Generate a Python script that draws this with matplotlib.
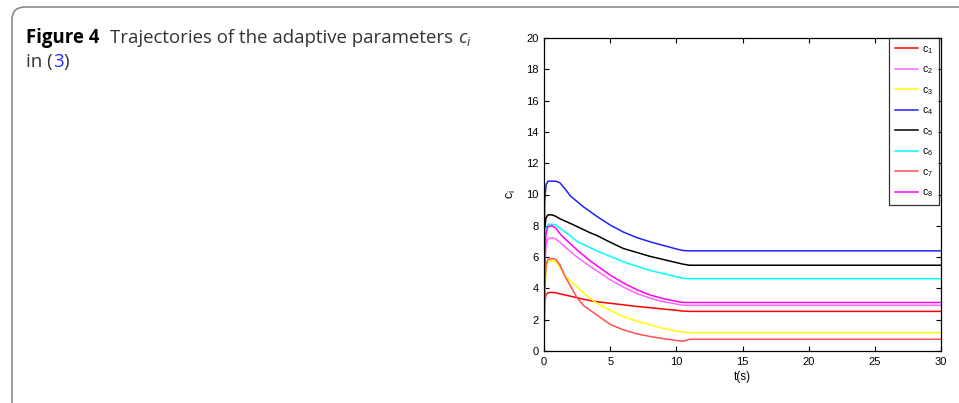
import matplotlib
matplotlib.use("Agg")
import matplotlib.pyplot as plt
from matplotlib.patches import FancyBboxPatch

# time knots (s) shared by all trajectories
T = [0, 0.05, 0.15, 0.3, 0.6, 0.9, 1.2, 1.6, 2.0, 2.5, 3.0, 3.5, 4.0,
     5.0, 6.0, 7.0, 8.0, 9.0, 10.0, 10.5, 11.0, 30]

C1 = [0.5, 3.0, 3.6, 3.72, 3.75, 3.72, 3.65, 3.58, 3.5, 3.4, 3.3, 3.22, 3.15,
      3.05, 2.95, 2.85, 2.77, 2.68, 2.6, 2.55, 2.53, 2.53]
C2 = [0.5, 5.0, 6.8, 7.15, 7.25, 7.15, 6.95, 6.65, 6.35, 6.0, 5.7, 5.4, 5.12,
      4.55, 4.08, 3.68, 3.38, 3.15, 3.0, 2.93, 2.92, 2.92]
C3 = [0.5, 3.5, 5.2, 5.7, 5.8, 5.7, 5.35, 4.8, 4.45, 4.1, 3.7, 3.35, 3.05,
      2.6, 2.2, 1.9, 1.68, 1.45, 1.28, 1.2, 1.17, 1.17]
C4 = [0.5, 9.5, 10.6, 10.85, 10.85, 10.85, 10.75, 10.35, 9.9, 9.55, 9.2, 8.9, 8.6,
      8.05, 7.6, 7.25, 6.98, 6.75, 6.52, 6.42, 6.4, 6.4]
C5 = [0.5, 7.8, 8.5, 8.7, 8.7, 8.6, 8.45, 8.3, 8.15, 7.95, 7.75, 7.55, 7.38,
      6.95, 6.55, 6.3, 6.05, 5.85, 5.65, 5.55, 5.48, 5.48]
C6 = [0.5, 6.5, 7.8, 8.1, 8.1, 8.05, 7.85, 7.6, 7.35, 7.0, 6.8, 6.6, 6.4,
      6.05, 5.7, 5.42, 5.15, 4.95, 4.75, 4.65, 4.62, 4.62]
C7 = [0.5, 4.0, 5.5, 5.85, 5.92, 5.85, 5.5, 4.75, 4.15, 3.4, 2.9, 2.6, 2.3,
      1.7, 1.35, 1.1, 0.93, 0.79, 0.68, 0.62, 0.75, 0.75]
C8 = [0.5, 5.5, 7.5, 7.95, 8.0, 7.85, 7.5, 7.15, 6.85, 6.45, 6.1, 5.75, 5.45,
      4.85, 4.35, 3.92, 3.58, 3.35, 3.17, 3.1, 3.1, 3.1]

SERIES = [C1, C2, C3, C4, C5, C6, C7, C8]
LABELS = [r"$\mathregular{c_%d}$" % (i + 1) for i in range(8)]
COLORS = ["#ff0000", "#ff66ff", "#ffff00", "#2020ff",
          "#000000", "#00ffff", "#ff5050", "#ff00ff"]

plt.rcParams["font.family"] = ["Liberation Sans", "DejaVu Sans"]
plt.rcParams["mathtext.fontset"] = "custom"
plt.rcParams["mathtext.rm"] = "Liberation Sans"
plt.rcParams["mathtext.it"] = "Liberation Sans:italic"

W, H = 959, 403
fig = plt.figure(figsize=(W / 100, H / 100), dpi=100)

# rounded caption frame
frame = FancyBboxPatch((0.12, -0.3), 10.0, 4.03 - 0.07 + 0.3,
                       boxstyle="round,pad=0,rounding_size=0.13",
                       transform=fig.dpi_scale_trans, facecolor="none",
                       edgecolor="#8a8a8a", linewidth=1.2)
fig.patches.append(frame)

# caption, written piece by piece
renderer = fig.canvas.get_renderer()


def put(x, y, s, **kw):
    t = fig.text(x / W, 1 - y / H, s, va="baseline", ha="left", **kw)
    bb = t.get_window_extent(renderer=renderer)
    return x + bb.width


cap = dict(fontsize=13.4, family=["Open Sans", "DejaVu Sans"])
plt.rcParams["mathtext.it"] = "Open Sans:italic"
plt.rcParams["mathtext.rm"] = "Open Sans"
x = put(26, 43, "Figure 4", color="black", fontweight="bold", **cap)
x = put(x + 11, 43, "Trajectories of the adaptive parameters ", color="#333333", **cap)
put(x, 43, r"$c_i$", color="#333333", **cap)
x = put(26, 67, "in (", color="#333333", **cap)
x = put(x, 67, "3", color="#2a2aff", **cap)
put(x, 67, ")", color="#333333", **cap)
plt.rcParams["mathtext.rm"] = "Liberation Sans"
plt.rcParams["mathtext.it"] = "Liberation Sans:italic"

ax = fig.add_axes([544 / W, 1 - 351 / H, (941 - 544) / W, (351 - 38) / H])
for vals, lab, col in zip(SERIES, LABELS, COLORS):
    ax.plot(T, vals, color=col, linewidth=1.1, label=lab)

ax.set_xlim(0, 30)
ax.set_ylim(0, 20)
ax.set_xticks(range(0, 31, 5))
ax.set_yticks(range(0, 21, 2))
ax.tick_params(direction="in", top=True, right=True, length=3.5,
               width=0.8, labelsize=8, pad=4)
for sp in ax.spines.values():
    sp.set_linewidth(0.9)
ax.set_xlabel("t(s)", fontsize=8.5, labelpad=3)
ax.set_ylabel(r"$\mathregular{c_i}$", fontsize=9, labelpad=6)

leg = ax.legend(loc="upper right", bbox_to_anchor=(0.995, 1.0),
                fontsize=7.5, frameon=True, fancybox=False,
                edgecolor="black", borderaxespad=0, handlelength=2.3,
                handletextpad=0.35, labelspacing=0.84, borderpad=0.55)
leg.get_frame().set_linewidth(0.9)

fig.savefig("out.png", dpi=100)
